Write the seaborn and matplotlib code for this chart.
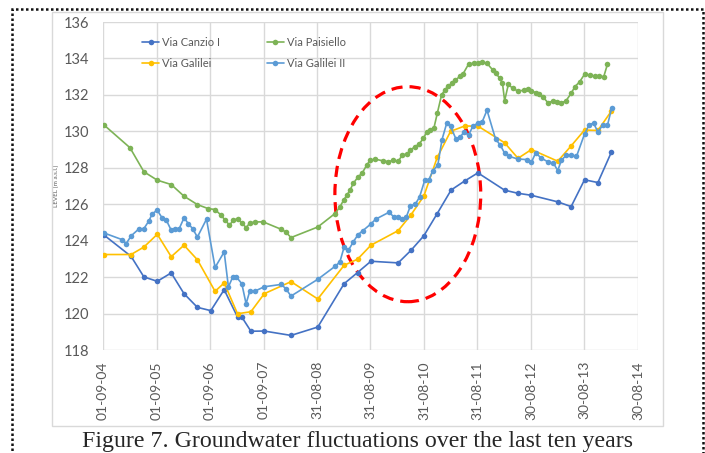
import pandas as pd
import seaborn as sns
import matplotlib.pyplot as plt
import matplotlib.dates as mdates
from matplotlib.patches import Rectangle, Ellipse

# Data (time as decimal year, level in m a.s.l.)
canzio_t = [2004.69, 2005.19, 2005.43, 2005.68, 2005.94, 2006.18, 2006.43, 2006.68,
            2006.93, 2007.18, 2007.26, 2007.43, 2007.68, 2008.18, 2008.68, 2009.17,
            2009.42, 2009.67, 2010.18, 2010.42, 2010.66, 2010.91, 2011.17, 2011.42,
            2011.67, 2012.17, 2012.42, 2012.67, 2013.16, 2013.41, 2013.66, 2013.91,
            2014.16]
canzio_v = [124.30, 123.14, 122.01, 121.77, 122.23, 121.09, 120.34, 120.16,
            121.31, 119.81, 119.81, 119.03, 119.04, 118.80, 119.26, 121.64,
            122.25, 122.87, 122.78, 123.47, 124.27, 125.49, 126.78, 127.27,
            127.72, 126.77, 126.60, 126.49, 126.13, 125.87, 127.34, 127.19,
            128.84]

paisiello_t = [2004.69, 2005.17, 2005.43, 2005.68, 2005.94, 2006.18, 2006.43, 2006.63,
               2006.76, 2006.87, 2006.95, 2007.03, 2007.10, 2007.18, 2007.26, 2007.34,
               2007.41, 2007.51, 2007.66, 2008.00, 2008.08, 2008.18, 2008.68, 2009.00,
               2009.09, 2009.16, 2009.22, 2009.28, 2009.34, 2009.43, 2009.51, 2009.59,
               2009.66, 2009.75, 2009.90, 2009.99, 2010.09, 2010.18, 2010.26, 2010.34,
               2010.41, 2010.49, 2010.57, 2010.65, 2010.71, 2010.77, 2010.85, 2010.91,
               2010.99, 2011.05, 2011.11, 2011.18, 2011.25, 2011.33, 2011.39, 2011.50,
               2011.59, 2011.67, 2011.75, 2011.84, 2011.95, 2012.00, 2012.08, 2012.13,
               2012.17, 2012.24, 2012.32, 2012.42, 2012.54, 2012.60, 2012.67, 2012.75,
               2012.82, 2012.88, 2012.98, 2013.07, 2013.15, 2013.23, 2013.31, 2013.41,
               2013.48, 2013.57, 2013.66, 2013.76, 2013.85, 2013.94, 2014.02, 2014.09]
paisiello_v = [130.34, 129.10, 127.78, 127.32, 127.08, 126.44, 125.98, 125.76,
               125.71, 125.40, 125.12, 124.85, 125.12, 125.21, 124.97, 124.72,
               124.97, 125.03, 125.03, 124.62, 124.48, 124.17, 124.75, 125.49,
               125.85, 126.22, 126.49, 126.77, 127.14, 127.50, 127.72, 128.14,
               128.42, 128.47, 128.38, 128.34, 128.40, 128.35, 128.71, 128.75,
               128.97, 129.15, 129.30, 129.61, 129.94, 130.07, 130.21, 130.98,
               131.99, 132.26, 132.48, 132.63, 132.81, 133.01, 133.14, 133.71,
               133.73, 133.76, 133.78, 133.73, 133.36, 133.21, 132.91, 132.63,
               131.68, 132.58, 132.36, 132.21, 132.26, 132.30, 132.23, 132.12,
               132.04, 131.90, 131.57, 131.66, 131.62, 131.57, 131.66, 132.08,
               132.45, 132.72, 133.13, 133.09, 133.03, 133.03, 133.00, 133.69]

galilei_t = [2004.69, 2005.19, 2005.43, 2005.68, 2005.94, 2006.18, 2006.43, 2006.76,
             2006.93, 2007.18, 2007.43, 2007.68, 2008.18, 2008.68, 2009.17, 2009.42,
             2009.67, 2010.18, 2010.42, 2010.66, 2010.91, 2011.16, 2011.42, 2011.67,
             2012.17, 2012.42, 2012.67, 2013.16, 2013.41, 2013.66, 2013.91, 2014.16]
galilei_v = [123.24, 123.24, 123.65, 124.35, 123.12, 123.75, 122.95, 121.22,
             121.68, 119.99, 120.10, 121.09, 121.75, 120.80, 122.65, 122.98,
             123.75, 124.55, 125.42, 126.45, 128.57, 130.00, 130.29, 130.29,
             129.37, 128.52, 129.00, 128.36, 129.20, 130.07, 130.05, 131.10]

galilei2_t = [2004.69, 2005.02, 2005.10, 2005.19, 2005.33, 2005.43, 2005.52, 2005.59,
              2005.68, 2005.77, 2005.85, 2005.94, 2006.01, 2006.09, 2006.18, 2006.26,
              2006.34, 2006.43, 2006.60, 2006.76, 2006.93, 2007.01, 2007.09, 2007.16,
              2007.26, 2007.34, 2007.41, 2007.51, 2007.68, 2008.00, 2008.08, 2008.18,
              2008.68, 2009.00, 2009.09, 2009.17, 2009.25, 2009.34, 2009.43, 2009.52,
              2009.67, 2009.76, 2010.01, 2010.10, 2010.17, 2010.25, 2010.33, 2010.41,
              2010.50, 2010.58, 2010.68, 2010.75, 2010.83, 2010.92, 2011.00, 2011.09,
              2011.16, 2011.26, 2011.34, 2011.41, 2011.50, 2011.58, 2011.67, 2011.75,
              2011.84, 2012.00, 2012.09, 2012.17, 2012.26, 2012.42, 2012.58, 2012.67,
              2012.75, 2012.85, 2012.98, 2013.08, 2013.16, 2013.23, 2013.32, 2013.41,
              2013.51, 2013.66, 2013.75, 2013.83, 2013.91, 2014.00, 2014.09, 2014.17]
galilei2_v = [124.42, 124.06, 123.84, 124.26, 124.63, 124.66, 125.07, 125.49,
              125.67, 125.25, 125.12, 124.57, 124.66, 124.66, 125.25, 124.94,
              124.66, 124.20, 125.18, 122.53, 123.38, 121.46, 122.00, 122.00,
              121.64, 120.54, 121.24, 121.24, 121.47, 121.60, 121.37, 120.96,
              121.88, 122.59, 122.83, 123.65, 123.47, 123.93, 124.33, 124.55,
              124.92, 125.18, 125.56, 125.30, 125.30, 125.18, 125.28, 125.92,
              126.00, 126.40, 127.35, 127.32, 127.85, 128.14, 129.55, 130.47,
              130.27, 129.58, 129.68, 129.97, 129.82, 130.30, 130.45, 130.52,
              131.16, 129.58, 129.24, 128.80, 128.62, 128.48, 128.45, 128.30,
              128.82, 128.54, 128.32, 128.25, 127.85, 128.42, 128.69, 128.69,
              128.62, 129.85, 130.37, 130.45, 129.96, 130.34, 130.34, 131.30]

series_names = ['Via Canzio I', 'Via Paisiello', 'Via Galilei', 'Via Galilei II']
series_colors = ['#4472C4', '#7DB356', '#FFC000', '#5B9BD5']


def to_date(t):
    year = int(t)
    return pd.Timestamp(year, 1, 1) + pd.Timedelta(days=(t - year) * 365.25)


frames = []
for name, ts, vs in zip(series_names,
                        [canzio_t, paisiello_t, galilei_t, galilei2_t],
                        [canzio_v, paisiello_v, galilei_v, galilei2_v]):
    frames.append(pd.DataFrame({'date': [to_date(t) for t in ts],
                                'level': vs, 'well': name}))
df = pd.concat(frames, ignore_index=True)

sns.set_style('white')
plt.rcParams['font.family'] = ['Lato', 'DejaVu Sans']

fig = plt.figure(figsize=(7.05, 4.53), dpi=100)

# document frame and chart area
fig.patches.append(Rectangle((12 / 705, -0.05), 691 / 705, 1.05 - 9 / 453,
                             transform=fig.transFigure, fill=False,
                             edgecolor='#111111', lw=1.8, ls=(0, (1, 1))))
fig.patches.append(Rectangle((52 / 705, 1 - 426 / 453), 611 / 705, 414 / 453,
                             transform=fig.transFigure, fill=False,
                             edgecolor='#D9D9D9', lw=1))

ax = fig.add_axes([103 / 705, 1 - 350 / 453, 535 / 705, 328 / 453])

sns.lineplot(data=df, x='date', y='level', hue='well', hue_order=series_names,
             palette=series_colors, estimator=None, sort=False,
             marker='o', markersize=4, markeredgewidth=0, linewidth=1.2, ax=ax)

start = pd.Timestamp('2004-09-01')
ticks = [start + pd.Timedelta(days=365 * k) for k in range(11)]
ax.set_xticks(ticks)
ax.xaxis.set_major_formatter(mdates.DateFormatter('%d-%m-%y'))
ax.set_xlim(ticks[0], ticks[-1])
ax.set_ylim(118, 136)
ax.set_yticks(range(118, 137, 2))

ax.grid(True, color='#D9D9D9', lw=1)
for s in ax.spines.values():
    s.set_visible(False)
ax.tick_params(axis='x', rotation=90, labelsize=10, labelcolor='#595959', length=0, pad=8)
ax.tick_params(axis='y', labelsize=10.5, labelcolor='#595959', length=0, pad=10)
ax.set_xlabel('')
ax.set_ylabel('LEVEL [m a.s.l.]', fontsize=4.5, color='#595959', labelpad=3)

# highlighted recharge period
ell = Ellipse((mdates.date2num(to_date(2010.36)), 126.55), width=995, height=11.8,
              fill=False, edgecolor='#FF0000', lw=2.3, ls=(0, (3.5, 2.2)))
ax.add_patch(ell)

handles, labels = ax.get_legend_handles_labels()
order = [0, 2, 1, 3]
ax.legend([handles[i] for i in order], [labels[i] for i in order],
          loc='center left', bbox_to_anchor=(0.055, 0.907), ncol=2, frameon=False,
          fontsize=8, handlelength=1.5, handletextpad=0.3, columnspacing=4.2,
          labelspacing=0.9, labelcolor='#595959')

fig.text(358 / 705, 1 - 447 / 453,
         'Figure 7. Groundwater fluctuations over the last ten years',
         ha='center', va='baseline', fontsize=17.2, family='Liberation Serif')

fig.savefig('out.png', dpi=100)
